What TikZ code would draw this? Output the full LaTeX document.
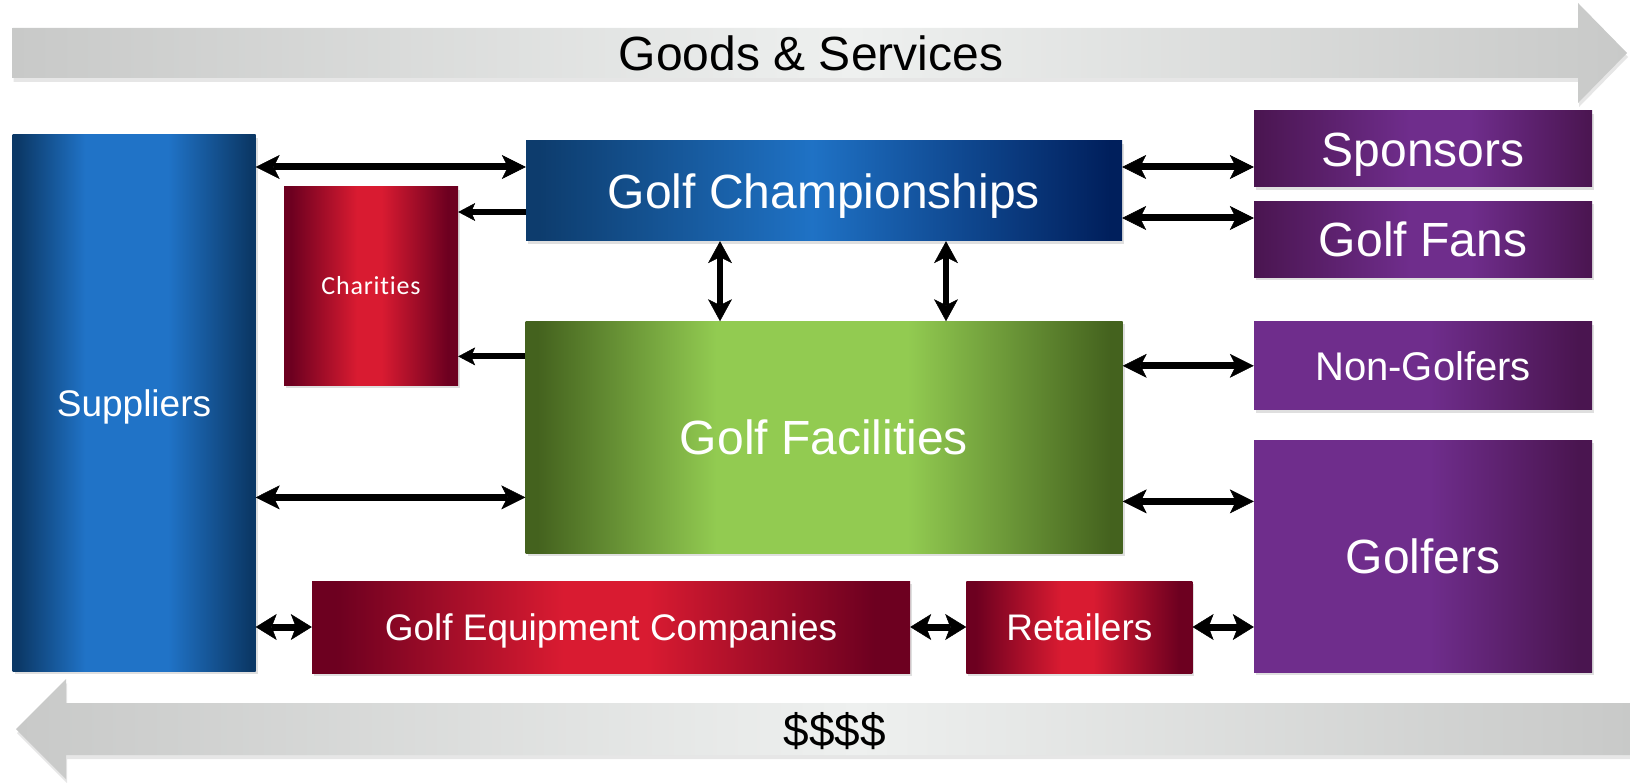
\documentclass[tikz,border=0pt]{standalone}
\usepackage{fontspec}
\setmainfont{Liberation Sans}
\newfontfamily\charfont[LetterSpace=3.0,Ligatures=NoCommon]{Carlito}
\usetikzlibrary{arrows.meta,positioning,shadows}

\definecolor{supdk}{HTML}{0B3866}
\definecolor{suplt}{HTML}{2073C7}
\definecolor{champl}{HTML}{0D3C6D}
\definecolor{champm}{HTML}{1F72C5}
\definecolor{champr}{HTML}{001F5C}
\definecolor{facdk}{HTML}{44621E}
\definecolor{faclt}{HTML}{92CB51}
\definecolor{reddk}{HTML}{6D0020}
\definecolor{redlt}{HTML}{D91B31}
\definecolor{purdk}{HTML}{4A1550}
\definecolor{purlt}{HTML}{6F2D8C}
\definecolor{greydk}{HTML}{C8C9C8}
\definecolor{greylt}{HTML}{EEF0EF}

\pgfdeclarehorizontalshading{supshade}{100bp}{color(0bp)=(supdk); color(26bp)=(supdk); color(40bp)=(suplt); color(57bp)=(suplt); color(74bp)=(supdk); color(100bp)=(supdk)}
\pgfdeclarehorizontalshading{champshade}{100bp}{color(0bp)=(champl); color(26bp)=(champl); color(49bp)=(champm); color(74bp)=(champr); color(100bp)=(champr)}
\pgfdeclarehorizontalshading{facshade}{100bp}{color(0bp)=(facdk); color(26bp)=(facdk); color(41bp)=(faclt); color(57bp)=(faclt); color(74bp)=(facdk); color(100bp)=(facdk)}
\pgfdeclarehorizontalshading{redshade}{100bp}{color(0bp)=(reddk); color(27bp)=(reddk); color(46bp)=(redlt); color(53bp)=(redlt); color(72bp)=(reddk); color(100bp)=(reddk)}
\pgfdeclarehorizontalshading{purpshade}{100bp}{color(0bp)=(purdk); color(25bp)=(purdk); color(48bp)=(purlt); color(57bp)=(purlt); color(75bp)=(purdk); color(100bp)=(purdk)}
\pgfdeclarehorizontalshading{purpshadeb}{100bp}{color(0bp)=(purlt); color(51bp)=(purlt); color(73bp)=(purdk); color(100bp)=(purdk)}
\pgfdeclarehorizontalshading{greyshade}{100bp}{color(0bp)=(greydk); color(25bp)=(greydk); color(51bp)=(greylt); color(75bp)=(greydk); color(100bp)=(greydk)}

\tikzstyle{box} = [rectangle, inner sep=0pt, text=white, text depth=0pt,
    drop shadow={shadow xshift=2pt, shadow yshift=-3pt, opacity=0.25}]
\tikzstyle{bigtext} = [font=\fontsize{48}{50}\selectfont, text height=34.5pt]
\tikzstyle{midtext} = [font=\fontsize{37}{40}\selectfont, text height=26.6pt]
\tikzstyle{dbl} = [<->, >={Stealth[length=24pt,width=24pt,inset=6pt,line width=0.5pt]}, line width=7pt]
\tikzstyle{sgl} = [->, >={Stealth[length=17pt,width=18pt,inset=4pt,line width=0.5pt]}, line width=6pt]
\tikzstyle{vdbl} = [<->, >={Stealth[length=22pt,width=24pt,inset=6pt,line width=0.5pt]}, line width=6pt]
\tikzstyle{sdbl} = [<->, >={Stealth[length=21pt,width=26pt,inset=5pt,line width=0.5pt]}, line width=7pt]

\begin{document}
\begin{tikzpicture}[x=1pt,y=-1pt]
  \useasboundingbox (0,0) rectangle (1630,783);

  % flow arrows
  \shade[shading=greyshade, drop shadow={shadow xshift=1pt, shadow yshift=-4pt, opacity=0.2}]
    (12.5,28) -- (1578,28) -- (1578,3) -- (1627,53) -- (1578,103) -- (1578,78) -- (12.5,78) -- cycle;
  \shade[shading=greyshade, drop shadow={shadow xshift=1pt, shadow yshift=-4pt, opacity=0.2}]
    (1632,703) -- (66,703) -- (66,679) -- (16,729) -- (66,779) -- (66,755) -- (1632,755) -- cycle;
  \node[bigtext] (goods) at (811,53) {Goods \& Services};
  \node[font=\fontsize{46}{48}\selectfont] (money) at (835,731) {\$\$\$\$};

  \node[box,midtext,shading=supshade,minimum width=243pt,minimum height=536pt] (sup) at (134,403) {Suppliers};
  \node[box,bigtext,shading=champshade,minimum width=596pt,minimum height=100pt] (champ) at (824,191) {Golf Championships};
  \node[box,bigtext,shading=facshade,minimum width=597pt,minimum height=232pt] (fac) [below=80pt of champ] {Golf Facilities};
  \node[box,shading=redshade,minimum width=174pt,minimum height=198pt,text height=16.7pt,font=\charfont\fontsize{26}{28}\selectfont] (char) at (371,286) {Charities};

  \node[box,bigtext,shading=purpshade,minimum width=338pt,minimum height=76pt] (spons) at (1423,149) {Sponsors};
  \node[box,bigtext,shading=purpshade,minimum width=338pt,minimum height=76pt] (fans) [below=14pt of spons] {Golf Fans};
  \node[box,shading=purpshadeb,minimum width=338pt,minimum height=88pt,text height=28.8pt,font=\fontsize{40}{42}\selectfont] (nong) [below=44pt of fans] {Non-Golfers};
  \node[box,bigtext,shading=purpshadeb,minimum width=338pt,minimum height=232pt] (golfers) [below=30pt of nong] {Golfers};

  \node[box,midtext,shading=redshade,minimum width=598pt,minimum height=92pt] (equip) at (611,627) {Golf Equipment Companies};
  \node[box,midtext,shading=redshade,minimum width=226pt,minimum height=92pt] (retail) [right=56pt of equip] {Retailers};

  % connectors
  \draw[dbl] ([yshift=24pt]champ.west -| sup.east) -- ([yshift=24pt]champ.west);
  \draw[dbl] ([yshift=-60pt]fac.west -| sup.east) -- ([yshift=-60pt]fac.west);
  \draw[sgl] ([yshift=-21pt]champ.west) -- ([yshift=-21pt]champ.west -| char.east);
  \draw[sgl] ([yshift=81pt]fac.west) -- ([yshift=81pt]fac.west -| char.east);
  \draw[vdbl] ([xshift=-104pt]champ.south) -- ([xshift=-104pt]champ.south |- fac.north);
  \draw[vdbl] ([xshift=122pt]champ.south) -- ([xshift=122pt]champ.south |- fac.north);
  \draw[dbl] ([yshift=24pt]champ.east) -- ([yshift=24pt]champ.east -| spons.west);
  \draw[dbl] ([yshift=-27pt]champ.east) -- ([yshift=-27pt]champ.east -| fans.west);
  \draw[dbl] (nong.west -| fac.east) -- (nong.west);
  \draw[dbl] ([yshift=-64pt]fac.east) -- ([yshift=-64pt]fac.east -| golfers.west);
  \draw[sdbl] (equip.west -| sup.east) -- (equip.west);
  \draw[sdbl] (equip.east) -- (retail.west);
  \draw[sdbl] (retail.east) -- (retail.east -| golfers.west);
\end{tikzpicture}
\end{document}
